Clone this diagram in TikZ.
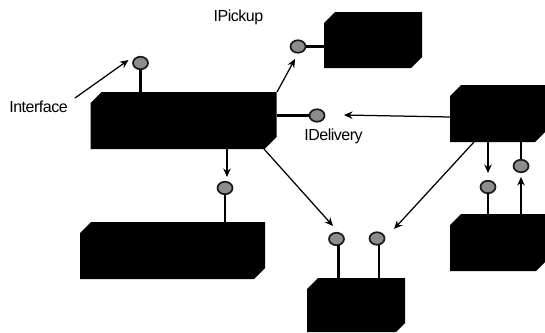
\documentclass[tikz,border=0pt]{standalone}
\usepackage{fontspec}
\setmainfont{Liberation Sans}
\usetikzlibrary{arrows.meta,shapes.geometric}
\tikzset{
  x=1pt,y=-1pt,
  boxbase/.style={rectangle,inner sep=0pt,outer sep=0pt},
  lolli/.style={ellipse,draw=black!90,line width=1.7pt,fill=black!45,minimum width=15pt,minimum height=12.5pt,inner sep=0pt,outer sep=0pt},
  stem/.style={draw=black,line width=2.1pt},
  arrowline/.style={draw=black,line width=1.25pt,-{Stealth[length=8.5pt,width=7.5pt]}},
  lab/.style={font=\fontsize{16}{18}\selectfont\addfontfeature{LetterSpace=-3},inner sep=0pt,text=black},
}
% name, x1, y1, x2, y2, tl chamfer, br chamfer
\newcommand{\chambox}[7]{%
  \pgfmathsetmacro{\cw}{#4-#2}\pgfmathsetmacro{\ch}{#5-#3}%
  \node[boxbase,minimum width=\cw pt,minimum height=\ch pt,anchor=north west] (#1) at (#2,#3) {};%
  \fill[black] (#2,#3+#6) -- (#2+#6,#3) -- (#4,#3) -- (#4,#5-#7) -- (#4-#7,#5) -- (#2,#5) -- cycle;%
}
\begin{document}
\begin{tikzpicture}
\useasboundingbox (0,0) rectangle (545,332);
\fill[white] (0,0) rectangle (545,332);
\chambox{main}{90.5}{92}{276.5}{149}{11}{12}
\chambox{pickup}{324}{12}{422}{68}{11}{11}
\chambox{right}{450}{85}{545}{142}{11}{10}
\chambox{lower}{80}{222}{265}{279}{11}{11}
\chambox{bottom}{307}{278}{405}{332}{11}{9}
\chambox{rlow}{450}{214}{545}{271}{11}{9}
% stems
\coordinate (c5) at (338.5,278);
\coordinate (c6) at (379,278);
\node[lolli] (l1) at (140.5,63) {};
\node[lolli] (l2) at (298,46.5) {};
\node[lolli] (l3) at (317,115.5) {};
\node[lolli] (l4) at (225,188) {};
\node[lolli] (l5) at (336.5,239) {};
\node[lolli] (l6) at (377,238.5) {};
\node[lolli] (l7) at (488,187) {};
\node[lolli] (l8) at (521,166) {};
\draw[stem] (l1) -- (l1 |- main.north);
\draw[stem] (l2) -- (l2 -| pickup.west);
\draw[stem] (l3) -- (l3 -| main.east);
\draw[stem] (l4) -- (l4 |- lower.north);
\draw[stem] (l5.south) ++(2,0) -- (c5);
\draw[stem] (l6.south) ++(2,0) -- (c6);
\draw[stem] (l7) -- (l7 |- rlow.north);
\draw[stem] (l8) -- (l8 |- right.south);
% labels
\node[lab] (iface) at (38.5,107) {Interface};
\node[lab] (ipick) at (238.5,17.5) {IPickup};
\node[lab] (ideliv) at (333.5,136) {IDelivery};
% connector ends
\coordinate (is) at (75,98);
\coordinate (it) at (128.5,60);
\coordinate (ms) at (277,92);
\coordinate (pt) at (295,59);
\coordinate (dt) at (344,115);
\coordinate (ls) at (227,149);
\coordinate (lt) at (227,177);
\coordinate (bs) at (264,149);
\coordinate (bt) at (333,226);
\coordinate (rs) at (474,142);
\coordinate (rt) at (394,229);
\coordinate (ds) at (488,142);
\coordinate (dd) at (488,173);
\coordinate (us) at (521,214);
\coordinate (ut) at (521,177);
% arrows
\draw[arrowline] (is) -- (it);
\draw[arrowline] (ms) -- (pt);
\draw[arrowline] (right.west |- 0,117) -- (dt);
\draw[arrowline] (ls) -- (lt);
\draw[arrowline] (bs) -- (bt);
\draw[arrowline] (rs) -- (rt);
\draw[arrowline] (ds) -- (dd);
\draw[arrowline] (us) -- (ut);
\end{tikzpicture}
\end{document}
